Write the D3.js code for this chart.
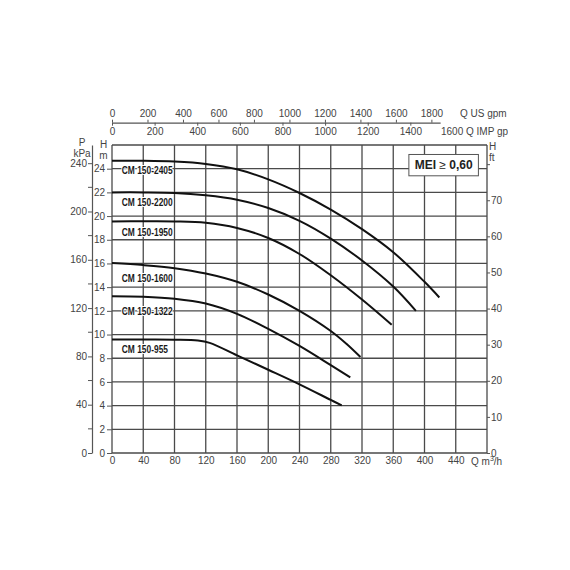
<!DOCTYPE html>
<html>
<head>
<meta charset="utf-8">
<script src="https://cdn.jsdelivr.net/npm/d3@7"></script>
<style>
  body { margin: 0; background: #fff; }
  svg { display: block; }
  .tick text { font-family: "Liberation Sans", Arial, sans-serif; font-size: 10px; fill: #444; }
</style>
</head>
<body>
<svg id="chart" width="508" height="570"></svg>
<script>
// Pump curves, H (m) vs Q (m3/h)
const curveNames = ["CM 150-2405", "CM 150-2200", "CM 150-1950", "CM 150-1600", "CM 150-1322", "CM 150-955"];

const q2405 = [0, 40, 80, 120, 160, 200, 240, 280, 320, 360, 400, 419];
const h2405 = [24.68, 24.67, 24.6, 24.4, 23.95, 23.1, 21.95, 20.55, 18.9, 16.95, 14.45, 13.13];

const q2200 = [0, 40, 80, 120, 160, 200, 240, 280, 320, 360, 389];
const h2200 = [22.0, 22.0, 21.95, 21.75, 21.38, 20.68, 19.6, 18.1, 16.25, 14.05, 12.0];

const q1950 = [0, 40, 80, 120, 160, 200, 240, 280, 320, 358];
const h1950 = [19.55, 19.56, 19.55, 19.44, 19.0, 18.15, 16.8, 15.0, 12.95, 10.82];

const q1600 = [0, 40, 80, 120, 160, 200, 240, 280, 300, 318];
const h1600 = [16.03, 15.86, 15.6, 15.15, 14.45, 13.38, 12.0, 10.3, 9.22, 8.1];

const q1322 = [0, 40, 80, 120, 160, 200, 240, 280, 305];
const h1322 = [13.24, 13.2, 13.03, 12.62, 11.75, 10.48, 9.04, 7.42, 6.39];

const q955 = [0, 40, 80, 110, 125, 160, 200, 240, 280, 294];
const h955 = [9.58, 9.58, 9.57, 9.5, 9.3, 8.24, 7.03, 5.8, 4.48, 4.02];

// axis ticks
const qTicks = [0, 40, 80, 120, 160, 200, 240, 280, 320, 360, 400, 440];
const hTicks = [0, 2, 4, 6, 8, 10, 12, 14, 16, 18, 20, 22, 24];
const kpaTicks = [0, 40, 80, 120, 160, 200, 240];
const kpaMinor = [20, 60, 100, 140, 180, 220];
const ftTicks = [0, 10, 20, 30, 40, 50, 60, 70, 80];
const usTicks = [0, 200, 400, 600, 800, 1000, 1200, 1400, 1600, 1800];
const impTicks = [0, 200, 400, 600, 800, 1000, 1200, 1400];

const series = [
  { q: q2405, h: h2405 },
  { q: q2200, h: h2200 },
  { q: q1950, h: h1950 },
  { q: q1600, h: h1600 },
  { q: q1322, h: h1322 },
  { q: q955, h: h955 }
];

const svg = d3.select("#chart");
const margin = { top: 145, right: 83, bottom: 117, left: 112 },
      width = 570 - margin.left - margin.right,
      height = 570 - margin.top - margin.bottom;

const x = d3.scaleLinear().domain([0, 480]).range([margin.left, margin.left + width]);
const y = d3.scaleLinear().domain([0, 26]).range([margin.top + height, margin.top]);

// secondary unit scales
const kpa = d3.scaleLinear().domain([0, 26 * 9.81]).range(y.range());
const ft = d3.scaleLinear().domain([0, 26 * 3.28084]).range(y.range());
const qTop = 420;
const us = d3.scaleLinear().domain([0, qTop / 0.22712]).range([x(0), x(qTop)]);
const imp = d3.scaleLinear().domain([0, qTop / 0.27277]).range([x(0), x(qTop)]);

const font = "'Liberation Sans', Arial, sans-serif";
const plain = d3.format("d");

// grid
const grid = svg.append("g").attr("stroke", "#4a4a4a").attr("stroke-width", 1.3);
grid.selectAll("line.v")
  .data(d3.range(0, 481, 40))
  .enter().append("line")
  .attr("x1", d => x(d)).attr("x2", d => x(d))
  .attr("y1", y(0)).attr("y2", y(26));
grid.selectAll("line.h")
  .data(d3.range(0, 27, 2))
  .enter().append("line")
  .attr("x1", x(0)).attr("x2", x(480))
  .attr("y1", d => y(d)).attr("y2", d => y(d));

// H (m) axis on the left of the frame
svg.append("g")
  .attr("transform", `translate(${x(0)},0)`)
  .call(d3.axisLeft(y).tickValues(hTicks).tickSize(5).tickPadding(2))
  .call(g => g.select(".domain").remove())
  .call(g => g.selectAll("line").attr("stroke", "#555"));

// P (kPa) axis
const kpaAxis = svg.append("g")
  .attr("transform", "translate(92,0)")
  .call(d3.axisLeft(kpa).tickValues(kpaTicks).tickSize(4).tickPadding(1).tickSizeOuter(0));
kpaAxis.select(".domain").attr("stroke", "#555").attr("stroke-width", 1.2);
kpaAxis.selectAll("line").attr("stroke", "#555");
kpaAxis.selectAll("line.minor")
  .data(kpaMinor)
  .enter().append("line")
  .attr("x1", -4).attr("x2", 0)
  .attr("y1", d => kpa(d)).attr("y2", d => kpa(d))
  .attr("stroke", "#555");

// H (ft) axis on the right
svg.append("g")
  .attr("transform", `translate(${x(480)},0)`)
  .call(d3.axisRight(ft).tickValues(ftTicks).tickSize(3).tickPadding(1)
    .tickFormat(d => d === 80 ? "" : d))
  .call(g => g.select(".domain").remove())
  .call(g => g.selectAll("line").attr("stroke", "#555"));

// Q (m3/h) axis at the bottom
svg.append("g")
  .attr("transform", `translate(0,${y(0)})`)
  .call(d3.axisBottom(x).tickValues(qTicks).tickSize(0).tickPadding(4))
  .call(g => g.select(".domain").remove());

// US / IMP gpm axis at the top
const usAxis = svg.append("g")
  .attr("transform", "translate(0,122.7)")
  .call(d3.axisTop(us).tickValues(usTicks).tickFormat(plain).tickSize(3).tickPadding(3).tickSizeOuter(0));
usAxis.select(".domain").attr("stroke", "#555").attr("stroke-width", 1.2);
usAxis.selectAll("line").attr("stroke", "#555");
const impAxis = svg.append("g")
  .attr("transform", "translate(0,122.7)")
  .call(d3.axisBottom(imp).tickValues(impTicks).tickFormat(plain).tickSize(3).tickPadding(2).tickSizeOuter(0));
impAxis.select(".domain").remove();
impAxis.selectAll("line").attr("stroke", "#555");

// unit labels
const unitText = (tx, ty, txt, anchor) => svg.append("text")
  .attr("x", tx).attr("y", ty)
  .attr("text-anchor", anchor || "start")
  .attr("font-family", font).attr("font-size", 10).attr("fill", "#444")
  .text(txt);
unitText(82, 146, "P", "middle");
unitText(82, 156.5, "kPa", "middle");
unitText(103.5, 147.5, "H", "middle");
unitText(103.5, 158.5, "m", "middle");
unitText(489, 150, "H");
unitText(489, 160.5, "ft");
unitText(460, 116.5, "Q US gpm");
unitText(441, 134.5, "1600 Q IMP gpm");
const qLabel = unitText(471, 465, "Q m");
qLabel.append("tspan").attr("font-size", 7).attr("dy", -4).text("3");
qLabel.append("tspan").attr("dy", 4).text("/h");

// pump curves
const line = d3.line()
  .x(d => x(d[0]))
  .y(d => y(d[1]))
  .curve(d3.curveCatmullRom.alpha(0.5));

svg.append("g").selectAll("path")
  .data(series)
  .enter().append("path")
  .attr("fill", "none")
  .attr("stroke", "#111")
  .attr("stroke-width", 2)
  .attr("d", s => line(s.q.map((v, i) => [v, s.h[i]])));

// curve names, placed just under each curve's start
const labelDrop = [0.8, 0.84, 0.88, 1.29, 1.26, 0.83];
const names = svg.append("g").selectAll("text")
  .data(series)
  .enter().append("text")
  .attr("x", x(12.5))
  .attr("y", (s, i) => y(s.h[0] - labelDrop[i]))
  .attr("dy", "0.36em")
  .attr("font-family", font)
  .attr("font-weight", "bold")
  .attr("font-size", 10.5)
  .attr("fill", "#1a1a1a")
  .attr("stroke", "#fff")
  .attr("stroke-width", 2)
  .attr("paint-order", "stroke")
  .text((s, i) => curveNames[i]);
// condensed look
names.each(function () {
  const w = this.getComputedTextLength();
  d3.select(this).attr("textLength", w * 0.8).attr("lengthAdjust", "spacingAndGlyphs");
});

// MEI box
const mei = svg.append("g");
mei.append("rect")
  .attr("x", x(380)).attr("y", y(25.2))
  .attr("width", x(469) - x(380)).attr("height", y(23.4) - y(25.2))
  .attr("fill", "#fff").attr("stroke", "#555").attr("stroke-width", 1);
const meiText = mei.append("text")
  .attr("x", (x(380) + x(469)) / 2).attr("y", y(24.3))
  .attr("dy", "0.36em")
  .attr("text-anchor", "middle")
  .attr("font-family", font).attr("font-size", 12).attr("fill", "#222");
meiText.append("tspan").attr("font-weight", "bold").text("MEI ");
meiText.append("tspan").text("≥");
meiText.append("tspan").attr("font-weight", "bold").text(" 0,60");
</script>
</body>
</html>
